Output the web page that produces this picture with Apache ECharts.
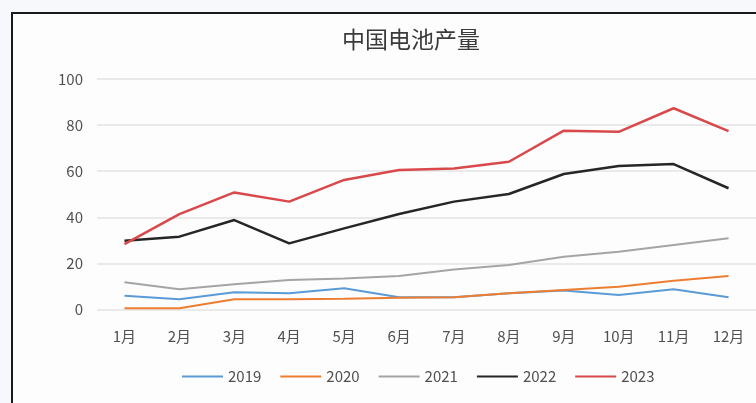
<!DOCTYPE html>
<html>
<head>
<meta charset="utf-8">
<script src="https://cdn.jsdelivr.net/npm/echarts@6/dist/echarts.min.js"></script>
<style>
  html, body { margin: 0; padding: 0; background: #f6f8fb; }
  #chart { width: 756px; height: 403px; }
</style>
</head>
<body>
<div id="chart"></div>
<script>
// Monthly battery output in China, by year
const months = ['1月','2月','3月','4月','5月','6月','7月','8月','9月','10月','11月','12月'];
const yTicks = [0, 20, 40, 60, 80, 100];
const years = ['2019','2020','2021','2022','2023'];
const s2019 = [6.0, 4.4, 7.5, 7.0, 9.2, 5.3, 5.3, 7.0, 8.2, 6.3, 8.8, 5.3];
const s2020 = [0.5, 0.5, 4.4, 4.4, 4.7, 5.1, 5.3, 7.0, 8.5, 9.9, 12.5, 14.5];
const s2021 = [11.8, 8.8, 11.0, 12.8, 13.5, 14.5, 17.4, 19.3, 22.9, 25.1, 28.0, 30.9];
const s2022 = [29.8, 31.6, 38.8, 28.7, 35.2, 41.4, 46.8, 50.1, 58.8, 62.3, 63.1, 52.6];
const s2023 = [28.4, 41.4, 50.8, 46.8, 56.2, 60.5, 61.2, 64.1, 77.6, 77.1, 87.3, 77.4];

const seriesData = [s2019, s2020, s2021, s2022, s2023];
const colors = ['#5b9bd5', '#ed7d31', '#a5a5a5', '#262626', '#d9484a'];
const widths = [2, 2, 2, 2.5, 2.5];
const font = '"Noto Sans CJK SC", "Noto Sans", sans-serif';

const chart = echarts.init(document.getElementById('chart'));
chart.setOption({
  backgroundColor: '#f6f8fb',
  animation: false,
  color: colors,
  graphic: [{
    type: 'rect',
    z: -10,
    shape: { x: 12, y: 13, width: 760, height: 400 },
    style: { fill: '#fdfdfd', stroke: '#1a1a1a', lineWidth: 2 }
  }],
  title: {
    text: '中国电池产量',
    left: 406,
    textAlign: 'center',
    top: 23,
    textStyle: { fontFamily: font, fontSize: 23, fontWeight: 'normal', color: '#3a3a3a' }
  },
  legend: {
    data: years,
    top: 364,
    left: 177,
    itemWidth: 41,
    itemHeight: 2,
    itemGap: 19,
    icon: 'rect',
    textStyle: { fontFamily: font, fontSize: 15, color: '#505050' }
  },
  grid: { left: 97, right: -7, top: 79, bottom: 93.5, containLabel: false },
  xAxis: {
    type: 'category',
    data: months,
    boundaryGap: true,
    axisLine: { show: false },
    axisTick: { show: false },
    axisLabel: { fontFamily: font, fontSize: 15, color: '#505050', margin: 19 }
  },
  yAxis: {
    type: 'value',
    min: yTicks[0],
    max: yTicks[yTicks.length - 1],
    interval: yTicks[1] - yTicks[0],
    axisLine: { show: false },
    axisTick: { show: false },
    axisLabel: { fontFamily: font, fontSize: 15, color: '#505050', margin: 14 },
    splitLine: { lineStyle: { color: '#e3e3e3', width: 1.5 } }
  },
  series: years.map((y, i) => ({
    name: y,
    type: 'line',
    data: seriesData[i],
    symbol: 'none',
    lineStyle: { width: widths[i], color: colors[i] },
    itemStyle: { color: colors[i] }
  }))
});
</script>
</body>
</html>
